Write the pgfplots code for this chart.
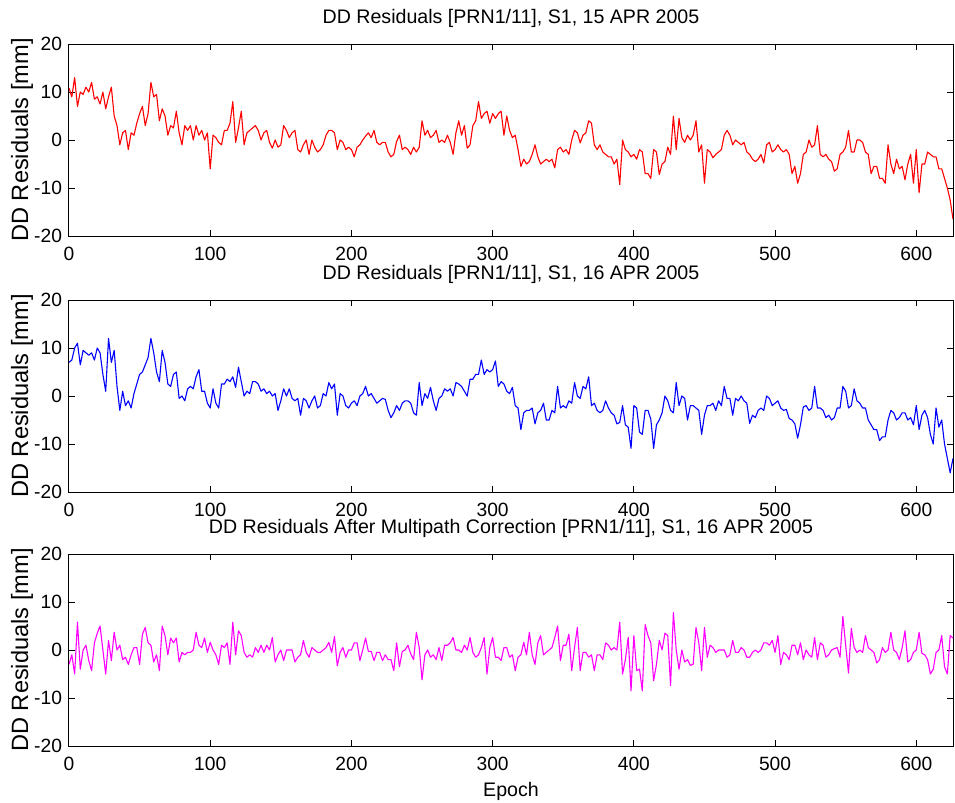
\documentclass[border=0pt]{standalone}
\usepackage{fontspec}
\setmainfont{Liberation Sans}
\usepackage{pgfplots}
\pgfplotsset{compat=1.18}

\definecolor{mred}{RGB}{255,0,0}
\definecolor{mblue}{RGB}{0,0,255}
\definecolor{mmag}{RGB}{255,0,255}

\pgfplotsset{
  panel/.style={
    width=442pt, height=96pt, scale only axis,
    xmin=0, xmax=626, ymin=-20, ymax=20,
    xtick={0,100,...,600}, ytick={-20,-10,0,10,20},
    minor tick num=0,
    tick align=inside, major tick length=3pt,
    axis line style={line width=0.5pt, black},
    every tick/.style={line width=0.5pt, black},
    /pgf/number format/assume math mode=true,
    ticklabel style={font=\fontsize{9.6}{11}\selectfont},
    xticklabel style={yshift=-2pt},
    title style={font=\fontsize{9.8}{12}\selectfont, yshift=-1.5pt},
    ylabel={DD Residuals [mm]},
    ylabel style={font=\fontsize{11.8}{14}\selectfont, at={(axis description cs:0,0.5)}, anchor=center, yshift=23.5pt},
    xlabel style={font=\fontsize{9.8}{12}\selectfont},
    clip=true,
  },
  trace/.style={line width=0.55pt, no marks, line join=round},
}

\begin{document}
\begin{tikzpicture}
% top panel: 15 April
\begin{axis}[panel, at={(0pt,0pt)}, anchor=north west,
  title={DD Residuals [PRN1/11], S1, 15 APR 2005}]
\addplot[trace, color=mred] coordinates {
(0,10.8)(2,9)(4,13)(6,7)(8,10)(10,9.5)(12,11)(14,10)(16,12)(18,8.5)
(20,9)(22,7.5)(24,10)(26,6.5)(28,9)(30,11)(32,5)(34,3)(36,-1)(38,1.5)
(40,2)(42,-2)(44,1.5)(46,1)(48,3.5)(50,5.5)(52,7)(54,3)(56,5.5)(58,12)
(60,9)(62,9.5)(64,4)(66,6.5)(68,5)(70,1)(72,3)(74,2.5)(76,6)(78,1.5)
(80,-1)(82,3)(84,2)(86,3)(88,0)(90,3)(92,1)(94,2)(96,0)(98,1.5)
(100,-6)(102,1)(104,0.5)(106,-0.5)(108,-1)(110,2)(112,2)(114,3.5)(116,8)(118,-0.5)
(120,2.5)(122,6)(124,-1)(126,1.5)(128,2)(130,2.5)(132,3)(134,2)(136,0)(138,1.5)
(140,2)(142,-0.5)(144,-1.7)(146,0)(148,-1.5)(150,-1)(152,3)(154,2)(156,0.5)(158,1.5)
(160,2)(162,-2)(164,-2.5)(166,-1)(168,0)(170,-3)(172,0)(174,-1.5)(176,-2.5)(178,-2)
(180,-1)(182,1)(184,2)(186,2)(188,1.5)(190,-2)(192,0)(194,-0.5)(196,-2)(198,-1.5)
(200,-2)(202,-3.5)(204,-1.5)(206,-1)(208,0)(210,0.8)(212,1.5)(214,0.5)(216,2)(218,-0.5)
(220,-1)(222,-0.5)(224,-0.5)(226,-2.5)(228,-3.5)(230,-3)(232,-0.3)(234,1)(236,-2)(238,-1.5)
(240,-2)(242,-3)(244,-1.5)(246,-2.5)(248,-1.5)(250,4)(252,1)(254,2)(256,0.5)(258,1)
(260,2)(262,-0.5)(264,0)(266,-0.5)(268,1)(270,-0.5)(272,-3)(274,1.5)(276,4)(278,1)
(280,3)(282,-1.7)(284,-1)(286,3)(288,4)(290,8)(292,4.5)(294,5.5)(296,6)(298,3.5)
(300,5.5)(302,4.5)(304,5.5)(306,6)(308,1)(310,5)(312,2)(314,0.5)(316,1)(318,-2)
(320,-5.5)(322,-4)(324,-5)(326,-4.5)(328,-3)(330,-1)(332,-3.5)(334,-5)(336,-4.5)(338,-4)
(340,-4.5)(342,-4)(344,-5.8)(346,-2)(348,-1.5)(350,-2.5)(352,-2)(354,-3)(356,0)(358,2)
(360,1.5)(362,-0.6)(364,1)(366,1.5)(368,4)(370,3.5)(372,-1)(374,-2)(376,-1)(378,-2.5)
(380,-3)(382,-3.5)(384,-3.5)(386,-5)(388,-4)(390,-9.3)(392,0)(394,-2)(396,-2.5)(398,-3.5)
(400,-3)(402,-4)(404,-2)(406,-2.5)(408,-7)(410,-7)(412,-8)(414,-2)(416,-2.5)(418,-7.2)
(420,-5)(422,-4.5)(424,-1.5)(426,-3)(428,5)(430,-2)(432,4.5)(434,0.5)(436,-0.5)(438,1)
(440,0)(442,1)(444,4)(446,-2.5)(448,-1)(450,-9)(452,-2)(454,-2.5)(456,-3.7)(458,-3)
(460,-2.5)(462,-2)(464,1)(466,2)(468,1)(470,-1)(472,0)(474,-0.5)(476,-1)(478,-0.5)
(480,-2.5)(482,-3)(484,-4)(486,-4.5)(488,-4)(490,-3)(492,-4.8)(494,-1)(496,-0.5)(498,-2.5)
(500,-2)(502,-1)(504,-2)(506,-2.5)(508,-2)(510,-3)(512,-7)(514,-5.5)(516,-9)(518,-7)
(520,-3)(522,-2.5)(524,0)(526,-1.5)(528,-1)(530,3)(532,-3)(534,-3.5)(536,-3)(538,-4)
(540,-4.5)(542,-6.5)(544,-6)(546,-3)(548,-2.5)(550,-1.5)(552,2)(554,-2.5)(556,-2.5)(558,0)
(560,0)(562,-0.5)(564,-2.5)(566,-3)(568,-7)(570,-5.5)(572,-5.5)(574,-8)(576,-8)(578,-9)
(580,-1)(582,-5)(584,-7)(586,-4)(588,-6)(590,-5.5)(592,-8.3)(594,-5)(596,-3)(598,-9)
(600,-2)(602,-11)(604,-5)(606,-5)(608,-2.5)(610,-3)(612,-3.5)(614,-3.5)(616,-6)(618,-6)
(620,-8)(622,-10)(624,-12.5)(626,-16.5)
};
\end{axis}

% middle panel: 16 April
\begin{axis}[panel, at={(0pt,-128pt)}, anchor=north west,
  title={DD Residuals [PRN1/11], S1, 16 APR 2005}]
\addplot[trace, color=mblue] coordinates {
(0,7)(2,7.5)(4,10)(6,11)(8,6.5)(10,9.5)(12,9)(14,8.5)(16,9)(18,7.5)
(20,10)(22,9)(24,4.5)(26,1)(28,12)(30,7)(32,9.5)(34,2)(36,-3)(38,1)
(40,-2)(42,-1)(44,-2.5)(46,0.5)(48,2.5)(50,4.5)(52,5)(54,6.5)(56,8)(58,12)
(60,9)(62,5)(64,3)(66,9.5)(68,7)(70,2.5)(72,2)(74,4.5)(76,5)(78,-0.5)
(80,0)(82,-1)(84,1.5)(86,2)(88,1.5)(90,4)(92,5.5)(94,1)(96,1)(98,-1.5)
(100,-2.5)(102,1.5)(104,-1.5)(106,-2.5)(108,2.5)(110,2.5)(112,3.5)(114,3)(116,4)(118,1.8)
(120,6)(122,3)(124,0)(126,1)(128,0.5)(130,3)(132,3)(134,2.5)(136,1)(138,1.5)
(140,0.5)(142,1)(144,0)(146,0.5)(148,-3)(150,-1)(152,1.5)(154,0)(156,1.5)(158,-0.5)
(160,-1)(162,-0.5)(164,-4)(166,-0.5)(168,-1)(170,-2.5)(172,-1)(174,0)(176,-2.5)(178,-2)
(180,0.5)(182,0)(184,2.8)(186,1.5)(188,2.5)(190,-4)(192,0.5)(194,0)(196,-2)(198,-2.5)
(200,-1.5)(202,-1)(204,-2)(206,0)(208,0.5)(210,2)(212,0)(214,0.5)(216,-0.5)(218,-1.5)
(220,-1)(222,-0.5)(224,-0.7)(226,-3)(228,-4.5)(230,-3.5)(232,-2)(234,-3)(236,-1.5)(238,-1)
(240,-1)(242,-1.5)(244,-3.5)(246,-4)(248,2.8)(250,-2)(252,0.5)(254,-0.5)(256,1.8)(258,-1)
(260,-3)(262,-0.5)(264,0)(266,1.5)(268,1)(270,1.5)(272,0)(274,2.8)(276,2.5)(278,2)
(280,1)(282,0)(284,3.5)(286,3.5)(288,4.5)(290,4.5)(292,7.5)(294,4.5)(296,5.5)(298,5)
(300,5.5)(302,7.3)(304,2)(306,3)(308,2.5)(310,1)(312,0.5)(314,1.8)(316,-2)(318,-2.5)
(320,-7)(322,-3.5)(324,-3)(326,-3)(328,-2.5)(330,-5.8)(332,-3.5)(334,-3)(336,-1.5)(338,-5)
(340,-5)(342,-3)(344,-3.5)(346,2)(348,-2.5)(350,-2)(352,-2.5)(354,-1)(356,-1.5)(358,2.8)
(360,0)(362,-0.5)(364,2)(366,1.5)(368,4)(370,-2)(372,-1.5)(374,-3)(376,-3.5)(378,-3)
(380,-1)(382,-2.5)(384,-3.5)(386,-4)(388,-5.8)(390,-5.5)(392,-2)(394,-6)(396,-6.5)(398,-10.9)
(400,-2)(402,-2.5)(404,-7.5)(406,-8)(408,-3)(410,-3)(412,-4.8)(414,-10.9)(416,-6)(418,-5)
(420,-3.5)(422,0)(424,-1)(426,-3)(428,-3.5)(430,2.8)(432,-2)(434,0)(436,-0.5)(438,-5)
(440,-2)(442,-2)(444,-2.5)(446,-3)(448,-8)(450,-4)(452,-2)(454,-2)(456,-1.5)(458,-3)
(460,-1)(462,-2)(464,2)(466,-0.5)(468,-0.5)(470,-4)(472,-0.5)(474,-1)(476,0)(478,-1)
(480,-1.5)(482,-5.7)(484,-4)(486,-4.5)(488,-3)(490,-2.5)(492,-3)(494,0)(496,-0.5)(498,-2)
(500,-1.5)(502,-1)(504,-2.5)(506,-3)(508,-2.8)(510,-4.7)(512,-5)(514,-5.8)(516,-8.8)(518,-6)
(520,-2.3)(522,-2)(524,-3)(526,-2.5)(528,2)(530,-2.5)(532,-2.5)(534,-3)(536,-4.5)(538,-4)
(540,-5)(542,-4.5)(544,-2.5)(546,-2.5)(548,2)(550,1)(552,-2.5)(554,-2)(556,1.5)(558,-1)
(560,-1.5)(562,-2.5)(564,-2.5)(566,-5)(568,-6)(570,-7)(572,-7)(574,-9.3)(576,-8.5)(578,-8.5)
(580,-5)(582,-3)(584,-3.5)(586,-5)(588,-4.5)(590,-3.5)(592,-3.5)(594,-5)(596,-4.5)(598,-6)
(600,-2)(602,-7)(604,-4)(606,-3)(608,-4.5)(610,-8)(612,-10)(614,-2.5)(616,-6.5)(618,-5)
(620,-10)(622,-13)(624,-16)(626,-13)
};
\end{axis}

% bottom panel: 16 April after multipath correction
\begin{axis}[panel, at={(0pt,-255pt)}, anchor=north west,
  title={DD Residuals After Multipath Correction [PRN1/11], S1, 16 APR 2005},
  xlabel={Epoch},
  xlabel style={at={(axis description cs:0.5,0)}, anchor=center, yshift=-22.5pt}]
\addplot[trace, color=mmag] coordinates {
(0,-3)(2,-1)(4,-5)(6,5.8)(8,-4)(10,0)(12,1)(14,-2.2)(16,-4.3)(18,1.5)
(20,3.5)(22,5)(24,0)(26,-5)(28,2)(30,-2.2)(32,3.7)(34,0)(36,1)(38,-2)
(40,-1.5)(42,-3)(44,-1)(46,0.5)(48,0.5)(50,-3)(52,3.3)(54,4.7)(56,1.5)(58,1)
(60,-2.5)(62,-1)(64,-4.3)(66,5)(68,3)(70,-1)(72,2.5)(74,1.5)(76,2.5)(78,-2.5)
(80,-0.5)(82,-1)(84,-0.5)(86,-0.5)(88,0)(90,3.7)(92,1)(94,0.5)(96,2.5)(98,-0.5)
(100,1.6)(102,0)(104,-1)(106,-3)(108,1)(110,0.5)(112,1.5)(114,-3)(116,5.8)(118,-1)
(120,4)(122,3)(124,-0.5)(126,-1.5)(128,-1)(130,-1.5)(132,0.5)(134,-0.5)(136,1)(138,-0.5)
(140,1)(142,0)(144,2.6)(146,-2.5)(148,-1)(150,0)(152,-2.2)(154,0)(156,0)(158,0)
(160,-2.5)(162,-1.5)(164,-1)(166,2)(168,-0.5)(170,-1.5)(172,0.5)(174,0)(176,-0.5)(178,-0.5)
(180,0)(182,0.5)(184,1.6)(186,-0.5)(188,2.8)(190,-3.3)(192,-0.5)(194,0.5)(196,-1.5)(198,0)
(200,0)(202,1.5)(204,1.5)(206,-2.2)(208,0)(210,2.5)(212,-0.3)(214,-0.3)(216,-2.2)(218,-0.5)
(220,-0.5)(222,-2.2)(224,-1)(226,-2)(228,-2)(230,-4.3)(232,1.5)(234,-3.5)(236,-0.3)(238,0)
(240,1)(242,-0.8)(244,-2)(246,3.7)(248,0.5)(250,-6.2)(252,-1)(254,0)(256,-1.5)(258,-1)
(260,-2)(262,0.5)(264,-2.2)(266,1)(268,1)(270,1.5)(272,2.6)(274,0)(276,0)(278,-0.5)
(280,1)(282,0)(284,2.6)(286,-0.5)(288,-1.5)(290,-1)(292,0.5)(294,2.6)(296,-5)(298,0.5)
(300,2.6)(302,-1.5)(304,-1.5)(306,-2.2)(308,0.5)(310,0.5)(312,-1.5)(314,-1)(316,-4.3)(318,-1.5)
(320,-1)(322,1.6)(324,-1)(326,3.7)(328,-1)(330,-3)(332,1.5)(334,3)(336,-1)(338,-0.5)
(340,0)(342,0.5)(344,2.6)(346,5)(348,-2.2)(350,1)(352,1)(354,3.3)(356,-4.3)(358,0.5)
(360,4.7)(362,-4.3)(364,-0.5)(366,-0.5)(368,-1.5)(370,-1)(372,-4.3)(374,-1)(376,-1)(378,-2)
(380,1.5)(382,1)(384,0)(386,0.5)(388,0)(390,5.8)(392,-5)(394,-2)(396,2.6)(398,-8.5)
(400,3)(402,-4.3)(404,-4)(406,-8.5)(408,5.3)(410,3)(412,1.5)(414,-6.4)(416,-3)(418,2)
(420,0)(422,3.5)(424,3)(426,-7.4)(428,7.8)(430,0)(432,-4)(434,0)(436,-2.5)(438,-2)
(440,-3.2)(442,-3)(444,4.7)(446,1.5)(448,-4.3)(450,4.7)(452,-1.5)(454,1)(456,0.5)(458,-0.5)
(460,0)(462,0)(464,0)(466,-1.5)(468,-1)(470,2)(472,-0.5)(474,-0.5)(476,0.5)(478,0)
(480,-1.5)(482,-1.5)(484,-0.5)(486,0)(488,-0.5)(490,0)(492,1.5)(494,1.5)(496,1)(498,2)
(500,-0.5)(502,3)(504,-3)(506,-0.5)(508,-1)(510,-2)(512,1)(514,1)(516,-1)(518,1.5)
(520,-2)(522,0)(524,-1)(526,-1.5)(528,2.6)(530,-2)(532,1.5)(534,1)(536,-1.5)(538,-1)
(540,0)(542,0.3)(544,0.5)(546,-1.5)(548,7)(550,1)(552,-4.8)(554,4.5)(556,0.5)(558,-0.5)
(560,0)(562,-0.5)(564,3)(566,0.5)(568,0)(570,-0.5)(572,-2.7)(574,-2)(576,0.5)(578,-0.5)
(580,0)(582,3.7)(584,0)(586,-0.5)(588,-2)(590,0.5)(592,4)(594,-2.5)(596,-2)(598,-0.5)
(600,0)(602,3.7)(604,-0.7)(606,-1)(608,-2)(610,-5)(612,-4)(614,-0.5)(616,0)(618,3)
(620,-3.5)(622,-5)(624,3)(626,2.5)
};
\end{axis}

% fixed page frame
\pgfresetboundingbox
\path[use as bounding box] (-34.5pt,22pt) rectangle (443pt,-379.5pt);
\end{tikzpicture}
\end{document}
